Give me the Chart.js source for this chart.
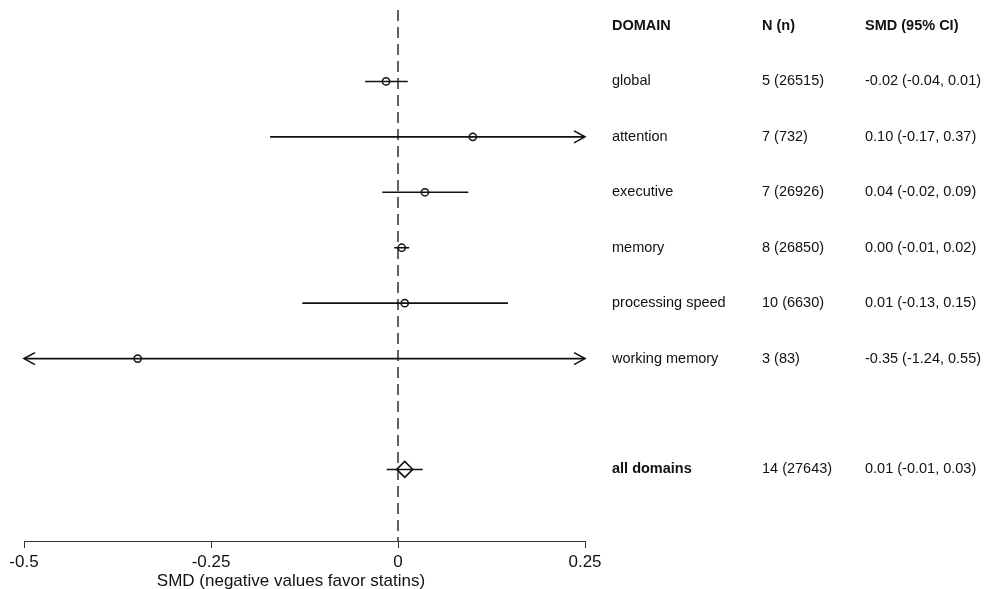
<!DOCTYPE html>
<html>
<head>
<meta charset="utf-8">
<title>Forest plot - SMD by domain</title>
<script src="https://cdn.jsdelivr.net/npm/chart.js@4.4.1/dist/chart.umd.min.js"></script>
<style>
  html, body { margin: 0; padding: 0; background: #fff; }
  #wrap { width: 991px; height: 589px; }
</style>
</head>
<body>
<div id="wrap"><canvas id="forestChart" width="991" height="589"></canvas></div>
<script>
// Données du graphique
const domains = ["global", "attention", "executive", "memory", "processing speed", "working memory"];
const nLabels = ["5 (26515)", "7 (732)", "7 (26926)", "8 (26850)", "10 (6630)", "3 (83)"];
const smdLabels = ["-0.02 (-0.04, 0.01)", "0.10 (-0.17, 0.37)", "0.04 (-0.02, 0.09)", "0.00 (-0.01, 0.02)", "0.01 (-0.13, 0.15)", "-0.35 (-1.24, 0.55)"];
const estimates = [-0.016, 0.100, 0.036, 0.005, 0.009, -0.348];
const lowerCI = [-0.044, -0.171, -0.021, -0.005, -0.128, -1.24];
const upperCI = [0.013, 0.37, 0.094, 0.015, 0.147, 0.55];
const rowPos = [1, 2, 3, 4, 5, 6];

const pooledLabel = "all domains";
const pooledN = "14 (27643)";
const pooledSmd = "0.01 (-0.01, 0.03)";
const pooledEst = 0.009;
const pooledLower = -0.015;
const pooledUpper = 0.033;
const pooledRow = 8;

const headers = ["DOMAIN", "N (n)", "SMD (95% CI)"];
const headerRow = 0;

const xTicks = [-0.5, -0.25, 0, 0.25];
const xTitle = "SMD (negative values favor statins)";

const FONT = "'Liberation Sans', Arial, Helvetica, sans-serif";
const INK = "#111";

document.addEventListener("DOMContentLoaded", function () {
  const ctx = document.getElementById("forestChart").getContext("2d");

  // Lignes des intervalles de confiance (une par domaine)
  const ciDatasets = rowPos.map(function (row, i) {
    return {
      type: "line",
      data: [{ x: lowerCI[i], y: row }, { x: upperCI[i], y: row }],
      borderColor: INK,
      borderWidth: 1.6,
      pointRadius: 0,
      order: 2
    };
  });
  ciDatasets.push({
    type: "line",
    data: [{ x: pooledLower, y: pooledRow }, { x: pooledUpper, y: pooledRow }],
    borderColor: INK,
    borderWidth: 1.6,
    pointRadius: 0,
    order: 2
  });

  // Ligne verticale en pointillés à zéro
  const zeroLine = {
    type: "line",
    data: [{ x: 0, y: -0.29 }, { x: 0, y: 9.4 }],
    borderColor: INK,
    borderWidth: 1.3,
    borderDash: [11, 6],
    pointRadius: 0,
    order: 3
  };

  const pointData = {
    type: "scatter",
    data: rowPos.map((row, i) => ({ x: estimates[i], y: row })),
    pointStyle: "circle",
    pointRadius: 3.6,
    pointBorderWidth: 1.5,
    pointBorderColor: INK,
    pointBackgroundColor: "rgba(0,0,0,0)",
    order: 0
  };

  const pooledPoint = {
    type: "scatter",
    data: [{ x: pooledEst, y: pooledRow }],
    pointStyle: "rectRot",
    pointRadius: 8,
    pointBorderWidth: 1.6,
    pointBorderColor: INK,
    pointBackgroundColor: "rgba(0,0,0,0)",
    order: 0
  };

  // Flèches quand l'intervalle dépasse l'axe, titre de l'axe et tableau de texte à droite
  const tablePlugin = {
    id: "forestTable",
    afterDatasetsDraw: function (chart) {
      const xs = chart.scales.x;
      const ys = chart.scales.y;
      const c = chart.ctx;
      c.save();
      c.strokeStyle = INK;
      c.lineWidth = 1.6;
      rowPos.forEach(function (row, i) {
        const y = ys.getPixelForValue(row);
        if (upperCI[i] > xs.max) {
          const tip = xs.getPixelForValue(xs.max);
          c.beginPath();
          c.moveTo(tip - 11, y - 6);
          c.lineTo(tip, y);
          c.lineTo(tip - 11, y + 6);
          c.stroke();
        }
        if (lowerCI[i] < xs.min) {
          const tip = xs.getPixelForValue(xs.min);
          c.beginPath();
          c.moveTo(tip + 11, y - 6);
          c.lineTo(tip, y);
          c.lineTo(tip + 11, y + 6);
          c.stroke();
        }
      });

      c.fillStyle = INK;
      c.textBaseline = "middle";

      // titre de l'axe x (centré sur la région du graphique, pas sur l'axe)
      c.textAlign = "center";
      c.font = "17px " + FONT;
      c.fillText(xTitle, 291, 581);

      const colX = [612, 762, 865];
      c.textAlign = "left";

      c.font = "bold 14.5px " + FONT;
      headers.forEach(function (h, k) {
        c.fillText(h, colX[k], ys.getPixelForValue(headerRow));
      });

      c.font = "14.5px " + FONT;
      rowPos.forEach(function (row, i) {
        const y = ys.getPixelForValue(row);
        c.fillText(domains[i], colX[0], y);
        c.fillText(nLabels[i], colX[1], y);
        c.fillText(smdLabels[i], colX[2], y);
      });

      const yp = ys.getPixelForValue(pooledRow);
      c.font = "bold 14.5px " + FONT;
      c.fillText(pooledLabel, colX[0], yp);
      c.font = "14.5px " + FONT;
      c.fillText(pooledN, colX[1], yp);
      c.fillText(pooledSmd, colX[2], yp);
      c.restore();
    }
  };

  new Chart(ctx, {
    data: { datasets: [zeroLine].concat(ciDatasets, [pointData, pooledPoint]) },
    options: {
      responsive: false,
      animation: false,
      events: [],
      layout: { autoPadding: false, padding: { left: 24, right: 406, top: 0, bottom: 0 } },
      plugins: { legend: { display: false }, tooltip: { enabled: false } },
      scales: {
        x: {
          type: "linear",
          min: -0.5,
          max: 0.25,
          afterBuildTicks: function (axis) {
            axis.ticks = xTicks.map(v => ({ value: v }));
          },
          afterFit: function (axis) {
            axis.height = 48;
          },
          grid: { drawOnChartArea: false, drawTicks: true, tickLength: 7, color: "#333", lineWidth: 1 },
          border: { display: true, color: "#333", width: 1 },
          ticks: {
            color: INK,
            padding: 4,
            maxRotation: 0,
            font: { family: FONT, size: 17 },
            callback: function (value) { return String(value); }
          }
        },
        y: {
          type: "linear",
          display: false,
          reverse: true,
          min: -0.469,
          max: 9.291
        }
      }
    },
    plugins: [tablePlugin]
  });
});
</script>
</body>
</html>
